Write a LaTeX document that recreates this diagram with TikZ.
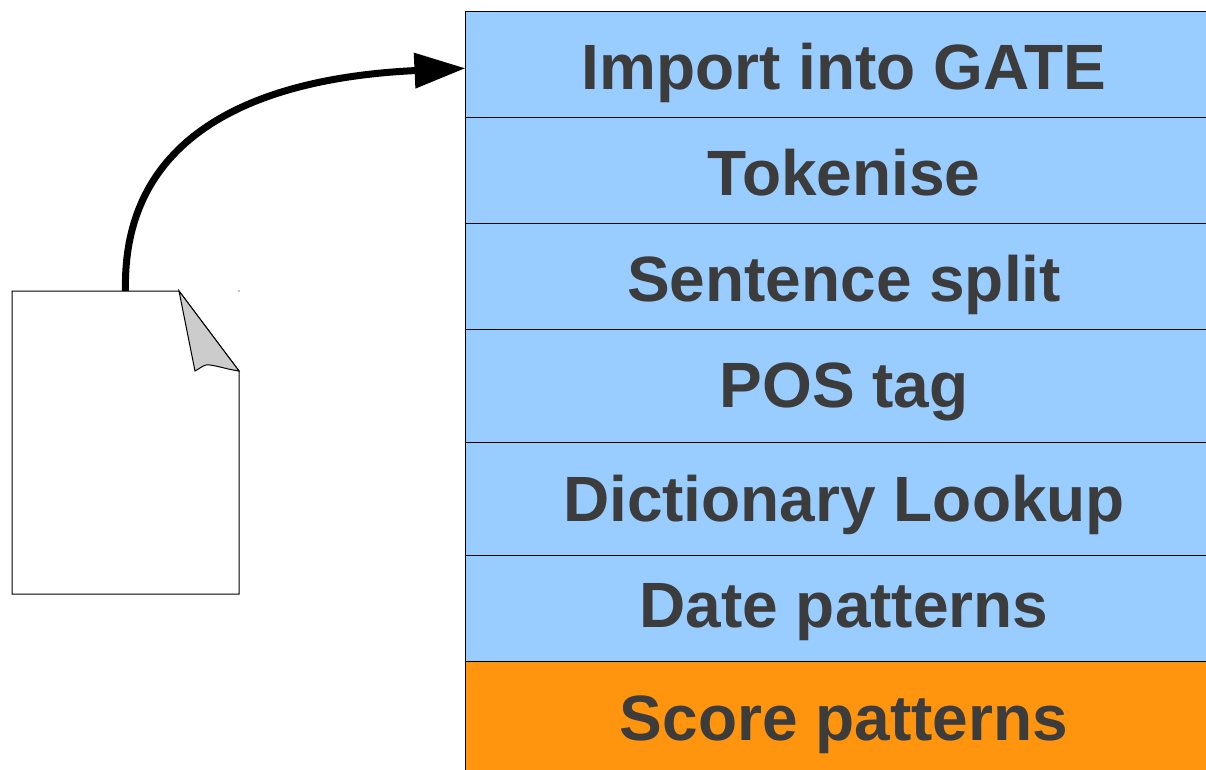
\documentclass[tikz,border=0pt]{standalone}
\usepackage{fontspec}
\setmainfont{Liberation Sans}
\usetikzlibrary{arrows.meta}
\definecolor{stepblue}{HTML}{99CCFF}
\definecolor{steporange}{HTML}{FF950E}
\definecolor{steptext}{HTML}{3C3C3C}
\tikzset{
  stagebox/.style args={#1/#2}{draw=black,line width=1pt,fill=stepblue,rectangle,
    inner sep=0pt,outer sep=0pt,minimum width=757pt,minimum height=#1 pt,
    text=steptext,font=\fontsize{64}{70}\selectfont\bfseries,
    text height=#2*2pt+10pt,text depth=10pt,anchor=center},
  pageline/.style={draw=black,line width=1pt},
  flowarrow/.style={draw=black,line width=7pt,-{Triangle[length=51pt,width=34pt]}}
}
\begin{document}
\begin{tikzpicture}[x=1pt,y=-1pt]
\useasboundingbox (0,0) rectangle (1206,770);
\clip (0,0) rectangle (1206,770);
\fill[white] (0,0) rectangle (1206,770);
\node[stagebox=105.5/25] (r1) at (844,64.75) {Import into GATE};
\node[stagebox=106/25] (r2) at (844,170.5) {Tokenise};
\node[stagebox=106/25] (r3) at (844,276.5) {Sentence split};
\node[stagebox=113/21.5] (r4) at (844,386) {POS tag};
\node[stagebox=113/22.5] (r5) at (844,499) {Dictionary Lookup};
\node[stagebox=106/19] (r6) at (844,608.5) {Date patterns};
\node[stagebox=114/22,fill=steporange] (r7) at (844,718.5) {Score patterns};
\node[minimum width=227pt,minimum height=303pt,inner sep=0pt,outer sep=0pt] (doc) at (125.5,442.5) {};
\draw[pageline,fill=white] (12,291) -- (179,291) -- (239,371) -- (239,594) -- (12,594) -- cycle;
\draw[pageline,fill=black!20] (179,291) -- (239,371) .. controls (225,369) and (212,364) .. (206,365) .. controls (202,366) and (199,369) .. (195,371) -- cycle;
\fill[black] (239,291) circle (0.6);
\draw[flowarrow] (doc.north) .. controls (122,135) and (255,78) .. ([yshift=-3.5pt]r1.west);
\end{tikzpicture}
\end{document}
